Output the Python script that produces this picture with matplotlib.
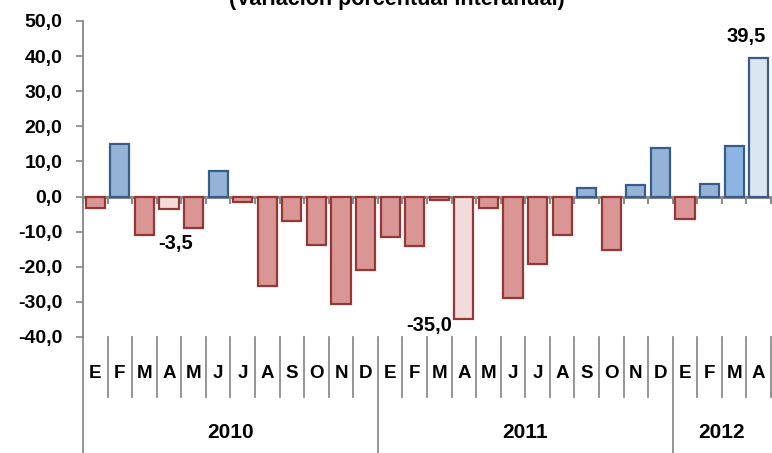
import matplotlib
matplotlib.use("Agg")
import matplotlib.pyplot as plt
import numpy as np

months = ["E", "F", "M", "A", "M", "J", "J", "A", "S", "O", "N", "D",
          "E", "F", "M", "A", "M", "J", "J", "A", "S", "O", "N", "D",
          "E", "F", "M", "A"]
years = ["2010", "2011", "2012"]
year_counts = [12, 12, 4]
values = [-3.2, 15.0, -11.0, -3.5, -8.9, 7.3, -1.5, -25.5, -7.0, -13.7, -30.5, -21.0,
          -11.5, -14.2, -0.9, -35.0, -3.2, -29.0, -19.2, -10.9, 2.3, -15.3, 3.4, 13.8,
          -6.4, 3.5, 14.5, 39.5]
highlight = {3: "-3,5", 15: "-35,0", 27: "39,5"}
y_ticks = [50, 40, 30, 20, 10, 0, -10, -20, -30, -40]

FONT = ["Liberation Sans", "DejaVu Sans"]
plt.rcParams['font.family'] = FONT

W, H = 772, 453
fig = plt.figure(figsize=(W / 100, H / 100), dpi=100)
left, right, top, bottom = 83, 771, 21, 337
ax = fig.add_axes([left / W, 1 - bottom / H, (right - left) / W, (bottom - top) / H])

n = len(values)
x = np.arange(n)
fills, edges = [], []
for i, v in enumerate(values):
    if v >= 0:
        if i == 27:
            fills.append("#DCE6F2")
        elif i == 26:
            fills.append("#8DB4E2")
        else:
            fills.append("#95B3D7")
        edges.append("#385D8A")
    else:
        fills.append("#F2DCDB" if i in (3, 15) else "#DA9694")
        edges.append("#953735")

ax.bar(x, values, width=0.78, color=fills, edgecolor=edges, linewidth=1.6, zorder=3)

ax.set_xlim(-0.5, n - 0.5)
ax.set_ylim(-40, 50)
ax.set_yticks(y_ticks)
ax.set_yticklabels([f"{t:.1f}".replace(".", ",") for t in y_ticks],
                   fontsize=14, fontweight="bold")
ax.tick_params(axis="y", direction="out", length=5, width=1.2, color="#868686", pad=10)

# x axis at zero
ax.spines["bottom"].set_position(("data", 0))
ax.spines["bottom"].set_color("#8C8C8C")
ax.spines["bottom"].set_linewidth(2.2)
ax.spines["bottom"].set_zorder(2)
ax.set_xticks(np.arange(-0.5, n, 1.0))
ax.set_xticklabels([])
ax.tick_params(axis="x", direction="out", length=5, width=1.5, color="#8C8C8C")
ax.spines["left"].set_color("#868686")
ax.spines["left"].set_linewidth(1.3)
ax.spines["top"].set_visible(False)
ax.spines["right"].set_visible(False)

# category table below
trans = ax.get_xaxis_transform()
ph = bottom - top
month_end = -(397 - bottom) / ph
year_end = -(H - bottom) / ph
year_bounds = np.cumsum([0] + year_counts) - 0.5
for b in np.arange(-0.5, n, 1.0):
    is_year = np.any(np.isclose(b, year_bounds[:-1]))
    ax.plot([b, b], [0, year_end if is_year else month_end], transform=trans,
            color="#8C8C8C", lw=1.3, clip_on=False)
month_y = -(373 - bottom) / ph
year_y = -(433 - bottom) / ph
for i, m in enumerate(months):
    ax.text(i, month_y, m, transform=trans, ha="center", va="center",
            fontsize=13.5, fontweight="bold")
for k, yr in enumerate(years):
    c = (year_bounds[k] + year_bounds[k + 1]) / 2
    ax.text(c, year_y, yr, transform=trans, ha="center", va="center",
            fontsize=15, fontweight="bold")

# data labels
label_pos = {3: (3.25, -13.4), 15: (13.6, -36.7), 27: (26.5, 45.6)}
for i, txt in highlight.items():
    px, py = label_pos[i]
    ax.text(px, py, txt, ha="center", va="center", fontsize=14.5, fontweight="bold")

fig.text(397 / W, 1 - 0 / H, "(Variación porcentual interanual)", ha="center",
         va="center", fontsize=15.5, fontweight="bold")

fig.savefig("out.png", dpi=100)
